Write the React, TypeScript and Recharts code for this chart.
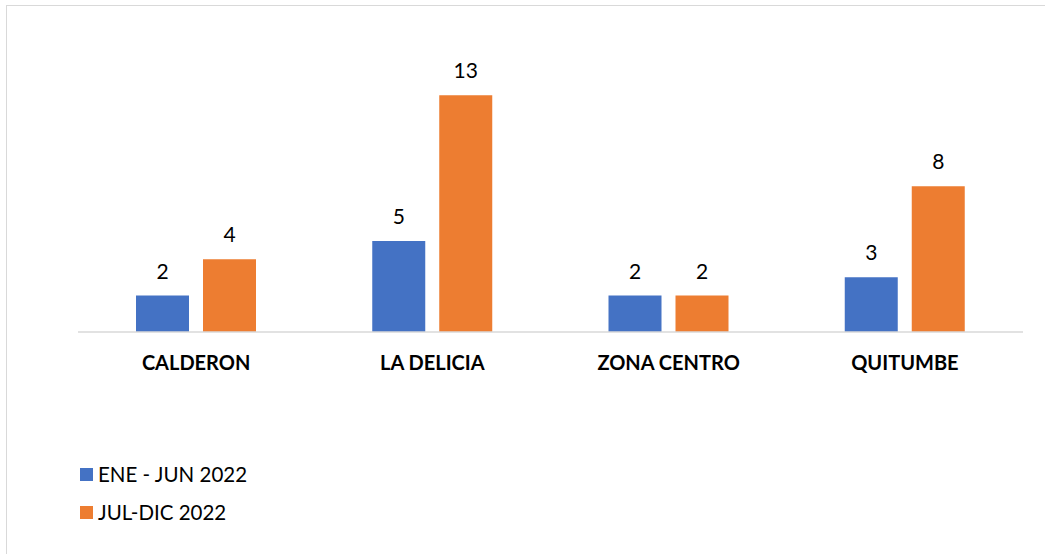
import { BarChart, Bar, XAxis, YAxis, Legend, LabelList } from "recharts"

const categories = ["CALDERON", "LA DELICIA", "ZONA CENTRO", "QUITUMBE"]
const eneJun = [2, 5, 2, 3]
const julDic = [4, 13, 2, 8]
const seriesNames = ["ENE - JUN 2022", "JUL-DIC 2022"]
const seriesColors = ["#4472C4", "#ED7D31"]

const data = categories.map((name, i) => ({ name, a: eneJun[i], b: julDic[i] }))

const FONT = "Lato, 'Open Sans', sans-serif"

function CategoryTick(props: any) {
  const { x, y, payload } = props
  return (
    <text x={x} y={y + 38} textAnchor="middle" fontFamily={FONT} fontWeight={700} fontSize={20} fill="#000">
      {payload.value}
    </text>
  )
}

function LegendBox() {
  return (
    <div style={{ fontFamily: FONT, fontSize: 20.5, color: "#000" }}>
      {seriesNames.map((n, i) => (
        <div key={n} style={{ display: "flex", alignItems: "center", height: 38 }}>
          <span style={{ display: "inline-block", width: 13, height: 13, background: seriesColors[i], marginRight: 5 }} />
          <span>{n}</span>
        </div>
      ))}
    </div>
  )
}

export default function App() {
  return (
    <div style={{ position: "absolute", left: 0, top: 0, width: 1045, height: 554, overflow: "hidden", background: "#fff" }}>
      <div style={{ position: "absolute", left: 6, top: 5, width: 1100, height: 600, border: "1.5px solid #d9d9d9" }} />
      <div style={{ position: "absolute", left: 0, top: 0 }}>
        <BarChart
          width={1045}
          height={554}
          data={data}
          margin={{ top: 77, right: 22, bottom: 192, left: 78 }}
          barSize={53}
          barGap={14}
        >
          <XAxis
            dataKey="name"
            height={30}
            tickLine={false}
            tickSize={0}
            tickMargin={0}
            axisLine={{ stroke: "#d9d9d9", strokeWidth: 1.5 }}
            tick={<CategoryTick />}
            interval={0}
          />
          <YAxis hide domain={[0, 14]} />
          <Legend
            verticalAlign="middle"
            align="center"
            layout="horizontal"
            content={<LegendBox />}
            wrapperStyle={{ left: 80, top: 455, width: 300 }}
          />
          <Bar dataKey="a" name={seriesNames[0]} fill={seriesColors[0]} isAnimationActive={false}>
            <LabelList dataKey="a" position="top" offset={17} fill="#000" fontSize={21} fontFamily={FONT} />
          </Bar>
          <Bar dataKey="b" name={seriesNames[1]} fill={seriesColors[1]} isAnimationActive={false}>
            <LabelList dataKey="b" position="top" offset={17} fill="#000" fontSize={21} fontFamily={FONT} />
          </Bar>
        </BarChart>
      </div>
    </div>
  )
}
